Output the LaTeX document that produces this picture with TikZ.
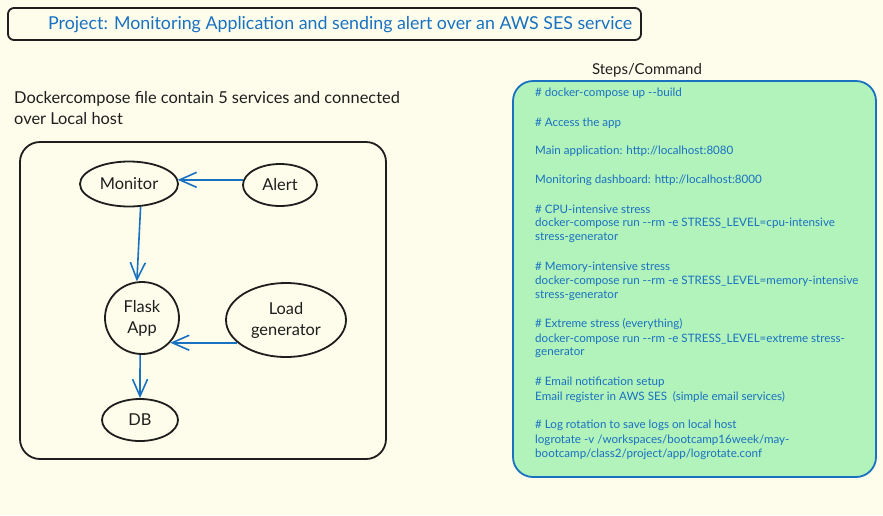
\documentclass[tikz,border=0pt]{standalone}
\usepackage{fontspec}
\setmainfont{Lato}[Ligatures=TeXOff]
\usetikzlibrary{shapes.geometric,arrows.meta}
\definecolor{bgc}{HTML}{FEFDEB}
\definecolor{exblue}{HTML}{1971C2}
\definecolor{exgreen}{HTML}{B2F2BB}
\definecolor{ink}{HTML}{1E1E1E}
\tikzset{
  frame/.style={draw=ink,line width=1.8pt,rounded corners=#1,inner sep=0pt},
  svc/.style={ellipse,draw=ink,line width=1.8pt,inner sep=0pt,font=\fontsize{16.4}{21}\selectfont,text=ink,align=center},
  flow/.style={draw=exblue,line width=1.6pt,-{Straight Barb[length=17pt,width=15pt,line width=1.6pt]}},
  cmd/.style={anchor=west,inner sep=0pt,text=exblue,font=\fontsize{11.6}{13}\selectfont},
  plain/.style={anchor=west,inner sep=0pt,text=ink,font=\fontsize{16.4}{20}\selectfont}
}
\begin{document}
\begin{tikzpicture}[x=1pt,y=-1pt]
\useasboundingbox (0,0) rectangle (883,515);
\fill[bgc] (0,0) rectangle (883,515);
% title
\node[frame=6pt,minimum width=633pt,minimum height=32pt] (titlebox) at (324.5,24) {};
\node[anchor=west,inner sep=0pt,text=exblue,font=\fontsize{17.8}{19}\selectfont] (title) at (48,24.5) {Project: Monitoring Application and sending alert over an AWS SES service};
% left description
\node[plain] (desc1) at (14,98.5) {Dockercompose file contain 5 services and connected};
\node[plain] (desc2) at (14,118.5) {over Local host};
% compose box
\node[frame=20pt,minimum width=366pt,minimum height=317pt] (compose) at (203,300.5) {};
\node[svc,minimum width=98pt,minimum height=45pt] (monitor) at (129,184) {Monitor};
\node[svc,minimum width=74pt,minimum height=42pt] (alert) at (280,185) {Alert};
\node[svc,minimum width=74pt,minimum height=72pt] (flask) at (142,318) {Flask\\App};
\node[svc,minimum width=120pt,minimum height=74pt] (load) at (286,320) {Load\\generator};
\node[svc,minimum width=76pt,minimum height=42pt] (db) at (140,420) {DB};
\draw[flow] (alert.172) -- (alert.172 -| monitor.6);
\draw[flow] (monitor.-63) -- (flask.98);
\draw[flow] (load.205) -- (load.205 -| flask.-41);
\draw[flow] (flask.-93) -- (db.north);
% steps
\node[anchor=center,inner sep=0pt,text=ink,font=\fontsize{15}{17}\selectfont] (stepstitle) at (647,70) {Steps/Command};
\node[frame=20pt,draw=exblue,fill=exgreen,minimum width=363pt,minimum height=396pt] (steps) at (694.5,279) {};
\node[cmd] (c1) at (535,93) {\# docker-compose up --build};
\node[cmd] (c2) at (535,123) {\# Access the app};
\node[cmd] (c3) at (535,151) {Main application: http://localhost:8080};
\node[cmd] (c4) at (535,180) {Monitoring dashboard: http://localhost:8000};
\node[cmd] (c5) at (535,209) {\# CPU-intensive stress};
\node[cmd] (c6) at (535,223.5) {docker-compose run --rm -e STRESS\_LEVEL=cpu-intensive};
\node[cmd] (c7) at (535,238) {stress-generator};
\node[cmd] (c8) at (535,267) {\# Memory-intensive stress};
\node[cmd] (c9) at (535,281.5) {docker-compose run --rm -e STRESS\_LEVEL=memory-intensive};
\node[cmd] (c10) at (535,296) {stress-generator};
\node[cmd] (c11) at (535,324.5) {\# Extreme stress (everything)};
\node[cmd] (c12) at (535,339) {docker-compose run --rm -e STRESS\_LEVEL=extreme stress-};
\node[cmd] (c13) at (535,353) {generator};
\node[cmd] (c14) at (535,382) {\# Email notification setup};
\node[cmd] (c15) at (535,397) {Email register in AWS SES~~(simple email services)};
\node[cmd] (c16) at (535,425.5) {\# Log rotation to save logs on local host};
\node[cmd] (c17) at (535,440.5) {logrotate -v /workspaces/bootcamp16week/may-};
\node[cmd] (c18) at (535,454.5) {bootcamp/class2/project/app/logrotate.conf};
\end{tikzpicture}
\end{document}
